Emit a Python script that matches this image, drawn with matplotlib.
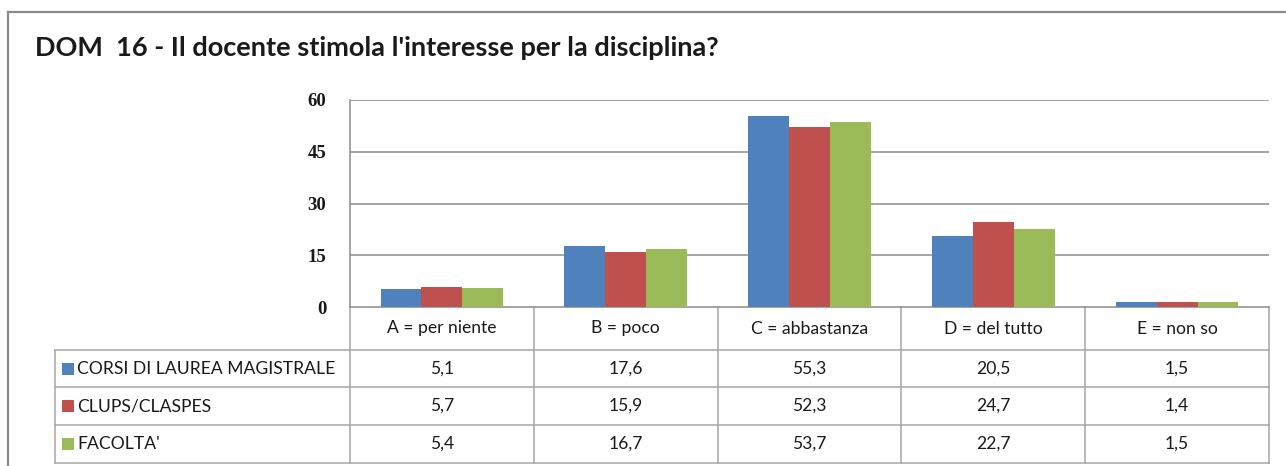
import matplotlib
matplotlib.use("Agg")
import matplotlib.pyplot as plt
from matplotlib.lines import Line2D
from matplotlib.transforms import blended_transform_factory

# ---- data ----
categories = ["A = per niente", "B = poco", "C = abbastanza", "D = del tutto", "E = non so"]
series_names = ["CORSI DI LAUREA MAGISTRALE", "CLUPS/CLASPES", "FACOLTA'"]
corsi = [5.1, 17.6, 55.3, 20.5, 1.5]
clups = [5.7, 15.9, 52.3, 24.7, 1.4]
facolta = [5.4, 16.7, 53.7, 22.7, 1.5]
y_ticks = [0, 15, 30, 45, 60]
title = "DOM  16 - Il docente stimola l'interesse per la disciplina?"

series = [corsi, clups, facolta]
colors = ["#4F81BD", "#C0504D", "#9BBB59"]
grid_c = "#8c8c8c"
table_c = "#a6a6a6"
font = "Lato"
tfs = 12.6

W, H = 1286, 466
fig = plt.figure(figsize=(W / 100, H / 100), dpi=100)
fig.patch.set_facecolor("white")

# plot area pixels
L, R, T, B = 350, 1269, 100, 307
ax = fig.add_axes([L / W, (H - B) / H, (R - L) / W, (B - T) / H])

n = len(categories)
bw = 0.222
offsets = [-bw, 0, bw]
xs = list(range(n))
for vals, off, c in zip(series, offsets, colors):
    ax.bar([x + off for x in xs], vals, width=bw, color=c, edgecolor="none", zorder=3)

ax.set_xlim(-0.5, n - 0.5)
ax.set_ylim(0, 60)
ax.set_yticks(y_ticks)
ax.set_yticklabels([str(v) for v in y_ticks], family="Liberation Serif",
                   fontweight="bold", fontsize=13.5, color="#1a1a1a")
ax.tick_params(axis="y", length=0, pad=17)
ax.set_xticks([])
for y in y_ticks[1:]:
    ax.axhline(y, color=grid_c, lw=1.1, zorder=1)
for s in ["top", "right"]:
    ax.spines[s].set_visible(False)
ax.spines["left"].set_color(grid_c)
ax.spines["bottom"].set_color(grid_c)
ax.spines["left"].set_linewidth(1.1)
ax.spines["bottom"].set_linewidth(1.1)

# ---- data table below ----
tr = blended_transform_factory(ax.transData, ax.transAxes)
hpx = B - T


def fy(ypx):
    return (B - ypx) / hpx


x_left = -0.5 + (55 - L) / ((R - L) / n)
row_lines = [350, 387, 425, 463]
# vertical lines for category columns
for k in range(n + 1):
    xb = k - 0.5
    ax.add_line(Line2D([xb, xb], [fy(B), fy(row_lines[-1])], transform=tr,
                       color=table_c, lw=1.1, clip_on=False))
# horizontal lines
for ypx in row_lines:
    ax.add_line(Line2D([x_left, n - 0.5], [fy(ypx), fy(ypx)], transform=tr,
                       color=table_c, lw=1.1, clip_on=False))
ax.add_line(Line2D([x_left, x_left], [fy(row_lines[0]), fy(row_lines[-1])],
                   transform=tr, color=table_c, lw=1.1, clip_on=False))

# header
for i, cat in enumerate(categories):
    ax.text(i, fy((B + row_lines[0]) / 2), cat, transform=tr, ha="center",
            va="center", family=font, fontsize=tfs, color="#1a1a1a")

# rows
sq_x = x_left + (68 - 55) / ((R - L) / n)
lab_x = x_left + (77 - 55) / ((R - L) / n)
for r, (name, vals, c) in enumerate(zip(series_names, series, colors)):
    yc = fy((row_lines[r] + row_lines[r + 1]) / 2)
    ax.plot([sq_x], [yc], marker="s", markersize=8, color=c, transform=tr,
            clip_on=False, markeredgewidth=0)
    ax.text(lab_x, yc, name, transform=tr, ha="left", va="center",
            family=font, fontsize=tfs, color="#1a1a1a")
    for i, v in enumerate(vals):
        ax.text(i, yc, f"{v:.1f}".replace(".", ","), transform=tr,
                ha="center", va="center", family=font, fontsize=tfs,
                color="#1a1a1a")

# title
fig.text(35 / W, 1 - 48 / H, title, ha="left", va="center", family=font,
         fontweight="bold", fontsize=19.5, color="#1a1a1a")

# outer chart border (left + top visible)
fig.add_artist(Line2D([8 / W, 8 / W], [0, 1 - 12 / H], transform=fig.transFigure,
                      color="#8a8a8a", lw=1.6))
fig.add_artist(Line2D([8 / W, 1], [1 - 12 / H, 1 - 12 / H], transform=fig.transFigure,
                      color="#8a8a8a", lw=1.6))

fig.savefig("out.png", dpi=100, facecolor="white")
